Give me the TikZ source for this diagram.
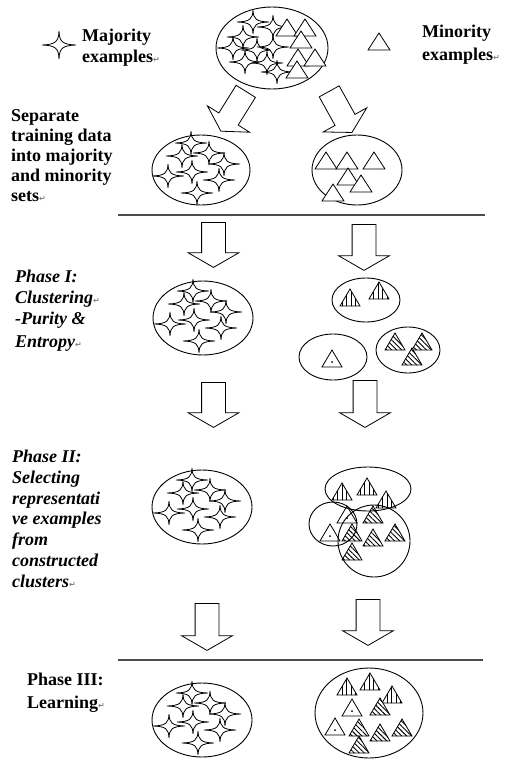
\documentclass[tikz,border=0pt]{standalone}
\usepackage{fontspec}
\setmainfont{Liberation Serif}
\newfontfamily\symfont{DejaVu Sans}
\usetikzlibrary{shapes.geometric,shapes.arrows,patterns.meta}

\newcommand\retmark{{\color{gray}\symfont\fontsize{8}{8}\selectfont ↵}}
\def\majlist{-10/-27,-19/-14,8/-17,23/-6,-33/6,-9/2,18/10,-4/23}

\tikzset{
  grp/.style={ellipse, draw, line width=0.9pt, inner sep=0pt},
  bigarrow/.style={single arrow, draw, fill=white, line width=0.8pt, inner sep=11.5pt,
    single arrow head extend=13.5pt, single arrow tip angle=120, minimum height=45pt, anchor=tail},
  lbl/.style={align=left, inner sep=0pt, anchor=base west},
  sepline/.style={line width=1.3pt, draw=black!70},
  smp/.style={draw, fill=white, line width=0.8pt},
  star4/.pic={\draw[smp] (16,0) .. controls (3,0.4) and (0.4,3) .. (0,12)
    .. controls (-0.4,3) and (-3,0.4) .. (-16,0)
    .. controls (-3,-0.4) and (-0.4,-3) .. (0,-12)
    .. controls (0.4,-3) and (3,-0.4) .. (16,0) -- cycle;},
  tri/.pic={\draw[smp] (-11,8) -- (0,-9) -- (11,8) -- cycle;},
  trivl/.pic={\draw[smp, postaction={pattern={Lines[angle=90,distance=4.5pt,line width=0.9pt]}}]
    (-10,8) -- (0,-9) -- (10,8) -- cycle;},
  tridg/.pic={\draw[smp, postaction={pattern={Lines[angle=-45,distance=3.5pt,line width=0.9pt]}}]
    (-10,8) -- (0,-9) -- (10,8) -- cycle;},
  tridot/.pic={\draw[smp] (-10,8) -- (0,-9) -- (10,8) -- cycle; \fill (0,3) circle (1);},
}

\begin{document}
\begin{tikzpicture}[x=1pt, y=-1pt]
  \useasboundingbox (0,0) rectangle (507,760);

  % legend (labels anchored at the baseline of their last line)
  \pic[xscale=1.06, yscale=1.17] at (59,45) {star4};
  \pic at (379,42) {tri};
  \node[lbl, font=\fontsize{18}{21}\selectfont\bfseries] (legmaj) at (82,63) {Majority\\examples\retmark};
  \node[lbl, font=\fontsize{18}{23}\selectfont\bfseries] (legmin) at (422,60) {Minority\\examples\retmark};

  % all training data
  \node[grp, minimum width=112pt, minimum height=82pt] (all) at (272,48) {};
  \foreach \p in {(253,22),(273,27),(243,37),(233,48),(257,50),(273,47),(245,62),(267,63),(277,72)}
    \pic at \p {star4};
  \foreach \p in {(287,28),(305,28),(301,40),(298,58),(315,58),(297,70)}
    \pic at \p {tri};

  \node[bigarrow, inner sep=11pt, minimum height=47pt, rotate=238] (arrl) at (246,91) {};
  \node[bigarrow, inner sep=11pt, minimum height=47pt, rotate=299] (arrr) at (329,91) {};

  % separated sets
  \node[lbl, font=\fontsize{18}{19.8}\selectfont\bfseries] (txtsep) at (11,201)
    {Separate\\training data\\into majority\\and minority\\sets\retmark};
  \node[grp, minimum width=98pt, minimum height=70pt] (maj1) at (201,170) {};
  \node[grp, minimum width=90pt, minimum height=70pt] (min1) at (357,170) {};
  \foreach \p in {(326,161),(347,161),(374,161),(348,177),(361,184),(333,193)}
    \pic at \p {tri};

  \coordinate (s1a) at (118,215);
  \coordinate (s1b) at (485,215);
  \draw[sepline] (s1a) -- (s1b);

  \node[bigarrow, rotate=-90] (d1l) at (213.5,222) {};
  \node[bigarrow, minimum height=46pt, rotate=-90] (d1r) at (364,224) {};

  % phase I
  \node[lbl, font=\fontsize{18}{21}\selectfont\bfseries\itshape] (txtp1) at (15,347)
    {Phase I:\\Clustering\retmark\\-Purity \&\\[2pt]Entropy\retmark};
  \node[grp, minimum width=100pt, minimum height=74pt] (maj2) at (203,318) {};
  \node[grp, minimum width=68pt, minimum height=44pt] (clu1a) at (366,300) {};
  \node[grp, minimum width=68pt, minimum height=46pt] (clu1b) at (333,357) {};
  \node[grp, minimum width=64pt, minimum height=46pt] (clu1c) at (408,350) {};
  \pic at (350,298) {trivl};
  \pic at (379,291) {trivl};
  \pic at (332,359) {tridot};
  \foreach \p in {(395,342),(422,342),(412,357)}
    \pic at \p {tridg};

  \node[bigarrow, rotate=-90] (d2l) at (213.5,382) {};
  \node[bigarrow, minimum height=47pt, rotate=-90] (d2r) at (365,380) {};

  % phase II
  \node[lbl, font=\fontsize{18}{20.7}\selectfont\bfseries\itshape] (txtp2) at (12,587)
    {Phase II:\\Selecting\\representati\\ve examples\\from\\constructed\\clusters\retmark};
  \node[grp, minimum width=100pt, minimum height=74pt] (maj3) at (202,507) {};
  \foreach \p in {(342,492),(367,487),(386,500)}
    \pic at \p {trivl};
  \foreach \p in {(347,515),(330,533)}
    \pic at \p {tridot};
  \foreach \p in {(373,515),(352,533),(373,538),(395,533),(352,552)}
    \pic at \p {tridg};
  \node[grp, minimum width=86pt, minimum height=44pt] (clu2a) at (368,489) {};
  \node[grp, minimum width=48pt, minimum height=44pt] (clu2b) at (333,524) {};
  \node[grp, minimum width=72pt, minimum height=72pt] (clu2c) at (374,541) {};

  \node[bigarrow, minimum height=47pt, rotate=-90] (d3l) at (207,603) {};
  \node[bigarrow, minimum height=46pt, rotate=-90] (d3r) at (368,599) {};

  \coordinate (s2a) at (118,660);
  \coordinate (s2b) at (483,660);
  \draw[sepline] (s2a) -- (s2b);

  % phase III
  \node[lbl, font=\fontsize{18}{23}\selectfont\bfseries] (txtp3) at (27,708) {Phase III:\\Learning\retmark};
  \node[grp, minimum width=100pt, minimum height=74pt] (maj4) at (202,720) {};
  \node[grp, minimum width=108pt, minimum height=90pt] (min4) at (369,713) {};
  \foreach \p in {(347,687),(370,682),(392,695)}
    \pic at \p {trivl};
  \foreach \p in {(352,708),(335,727)}
    \pic at \p {tridot};
  \foreach \p in {(380,707),(359,728),(380,733),(402,728),(359,745)}
    \pic at \p {tridg};

  % majority stars
  \foreach \g in {maj1,maj2,maj3,maj4}
    \foreach \dx/\dy in \majlist
      \pic at ([shift={(\dx,\dy)}]\g.center) {star4};
\end{tikzpicture}
\end{document}
